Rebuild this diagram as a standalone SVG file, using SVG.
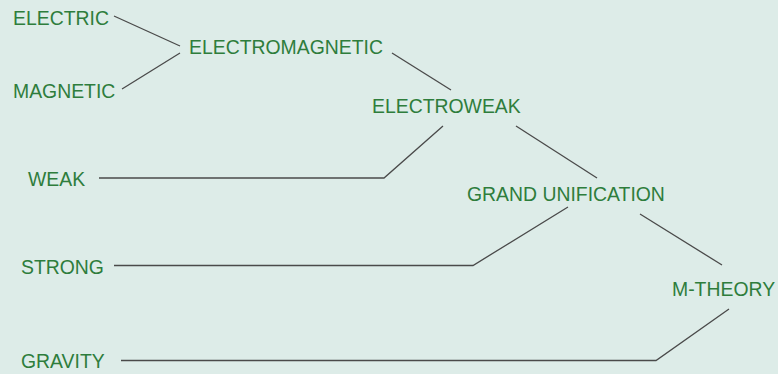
<svg xmlns="http://www.w3.org/2000/svg" width="778" height="374" viewBox="0 0 778 374">
<style>
.lbl{font-family:"Liberation Sans",Arial,sans-serif;font-size:19.4px;fill:#2e7d3c}
.ln{fill:none;stroke:#4a4a4a;stroke-width:1.3}
</style>
<rect width="778" height="374" fill="#ddece8"/>
<g id="connectors">
<path class="ln" d="M114,16 L180,46"/>
<path class="ln" d="M122,89 L180,53"/>
<path class="ln" d="M392,53 L451,90"/>
<path class="ln" d="M443,126 L384,178 L99,178"/>
<path class="ln" d="M516,126 L597,178"/>
<path class="ln" d="M568,207 L473,265.5 L114,265.5"/>
<path class="ln" d="M640,214 L722,265"/>
<path class="ln" d="M729,309 L656,360.5 L121,360.5"/>
</g>
<g id="electric"><text class="lbl" x="13" y="25">ELECTRIC</text></g>
<g id="magnetic"><text class="lbl" x="13" y="98">MAGNETIC</text></g>
<g id="electromagnetic"><text class="lbl" x="189" y="54">ELECTROMAGNETIC</text></g>
<g id="electroweak"><text class="lbl" x="372" y="113">ELECTROWEAK</text></g>
<g id="weak"><text class="lbl" x="28" y="186">WEAK</text></g>
<g id="grand-unification"><text class="lbl" x="467" y="201">GRAND UNIFICATION</text></g>
<g id="strong"><text class="lbl" x="21" y="274">STRONG</text></g>
<g id="m-theory"><text class="lbl" x="672" y="296">M-THEORY</text></g>
<g id="gravity"><text class="lbl" x="21" y="368">GRAVITY</text></g>
</svg>
